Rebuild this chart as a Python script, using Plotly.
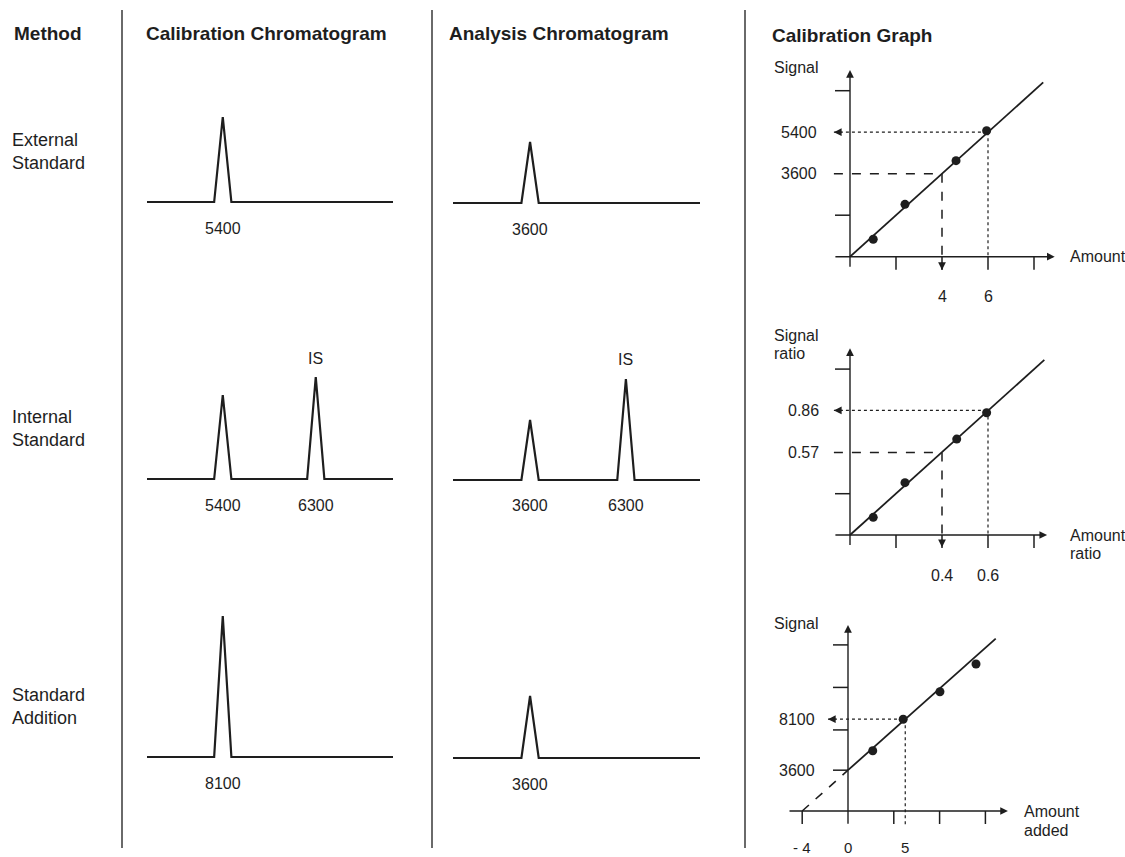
import plotly.graph_objects as go

W, H = 1125, 857
FONT = "Liberation Sans, Arial, Helvetica, sans-serif"
INK = "#1e1e1e"

# ---------------- data ----------------
headers = ["Method", "Calibration Chromatogram", "Analysis Chromatogram", "Calibration Graph"]
methods = ["External<br>Standard", "Internal<br>Standard", "Standard<br>Addition"]

# chromatograms (retention time 0..10, peak height in signal units)
cal_rt = [[3.08], [3.08, 6.86], [3.08]]
cal_height = [[85], [84, 102], [141]]
cal_area = [["5400"], ["5400", "6300"], ["8100"]]
ana_rt = [[3.12], [3.12, 7.0], [3.12]]
ana_height = [[61], [60, 101], [62]]
ana_area = [["3600"], ["3600", "6300"], ["3600"]]
is_flag = [[False], [False, True], [False]]
peak_halfwidth = 0.35

# calibration graph 1: external standard
ext_amount = [1.01, 2.39, 4.61, 5.94]
ext_signal = [755, 2270, 4165, 5465]
ext_slope, ext_icpt, ext_xmax = 900, 0, 8.4
ext_unknown = (4, 3600)
ext_std = (6, 5400)
ext_xticks = [2, 4, 6, 8]
ext_yticks = [1800, 7200]

# calibration graph 2: internal standard
int_amount = [0.101, 0.239, 0.464, 0.594]
int_signal = [0.122, 0.361, 0.662, 0.844]
int_slope, int_icpt, int_xmax = 1.43, 0, 0.845
int_unknown = (0.4, 0.57)
int_std = (0.6, 0.86)
int_xticks = [0.2, 0.4, 0.6, 0.8]
int_yticks = [0.285, 1.145]

# calibration graph 3: standard addition
add_amount = [2.16, 4.82, 8.03, 11.18]
add_signal = [5318, 8088, 10522, 12965]
add_slope, add_icpt, add_xmax = 900, 3600, 12.9
add_xint = -4
add_std = (5, 8100)
add_xticks = [-4, 4, 8, 12]
add_yticks = [3600, 7150, 10900, 14650]
add_xlabels = [(-4, "- 4"), (0, "0"), (5, "5")]

fig = go.Figure()
layout_axes = {}
shapes = []
annotations = []


def add_axes(i, box, xo, xs, yo, ys):
    left, top, right, bottom = box
    xr = [(left - xo) / xs, (right - xo) / xs]
    yr = [(yo - bottom) / ys, (yo - top) / ys]
    sfx = "" if i == 1 else str(i)
    layout_axes["xaxis" + sfx] = dict(domain=[left / W, right / W], range=xr, visible=False,
                                     anchor="y" + sfx, fixedrange=True)
    layout_axes["yaxis" + sfx] = dict(domain=[1 - bottom / H, 1 - top / H], range=yr, visible=False,
                                     anchor="x" + sfx, fixedrange=True)
    return "x" + sfx, "y" + sfx


def txt(text, x, y, xref, yref, size=16, xanchor="center", yanchor="middle", xshift=0, yshift=0, bold=False, align="left"):
    annotations.append(dict(text=("<b>%s</b>" % text) if bold else text, x=x, y=y, xref=xref, yref=yref,
                            showarrow=False, xanchor=xanchor, yanchor=yanchor, xshift=xshift, yshift=yshift,
                            align=align, font=dict(family=FONT, size=size, color=INK)))


def arrow(x, y, ax, ay, xref, yref, data_tail=True, width=1.4):
    d = dict(x=x, y=y, ax=ax, ay=ay, xref=xref, yref=yref, text="", showarrow=True,
             arrowhead=2, arrowsize=1.1, arrowwidth=width, arrowcolor=INK)
    if data_tail:
        d.update(axref=xref, ayref=yref)
    annotations.append(d)


def seg(x0, y0, x1, y1, xref, yref, dash="solid", width=1.5, color=INK):
    shapes.append(dict(type="line", xref=xref, yref=yref, x0=x0, y0=y0, x1=x1, y1=y1,
                       line=dict(color=color, width=width, dash=dash)))


# ---------------- headers / dividers ----------------
header_px = [(12, 33), (144, 33), (447, 33), (770, 35)]
for t, (px, py) in zip(headers, header_px):
    txt(t, px / W, 1 - py / H, "paper", "paper", size=19, xanchor="left", bold=True)

row_label_y = [151, 429, 706]
for t, py in zip(methods, row_label_y):
    txt(t, 10 / W, 1 - py / H, "paper", "paper", size=18, xanchor="left")

for px in [122, 432, 745]:
    shapes.append(dict(type="line", xref="paper", yref="paper", x0=px / W, x1=px / W,
                       y0=1 - 10 / H, y1=1 - 848 / H, line=dict(color="#6a6a6a", width=2)))

# ---------------- chromatograms ----------------
cal_base = [202, 479, 757]
ana_base = [203, 480, 758]
idx = 1
for col, (x_l, x_r, bases, rts, hts, areas) in enumerate([
        (147, 393, cal_base, cal_rt, cal_height, cal_area),
        (453, 700, ana_base, ana_rt, ana_height, ana_area)]):
    for r in range(3):
        base = bases[r]
        xref, yref = add_axes(idx, (x_l - 6, base - 170, x_r + 6, base + 10),
                              x_l, (x_r - x_l) / 10.0, base, 1.0)
        xs, ys = [0], [0]
        for rt, h in zip(rts[r], hts[r]):
            xs += [rt - peak_halfwidth, rt, rt + peak_halfwidth]
            ys += [0, h, 0]
        xs.append(10)
        ys.append(0)
        fig.add_trace(go.Scatter(x=xs, y=ys, xaxis=xref, yaxis=yref, mode="lines",
                                 line=dict(color=INK, width=2.2), hoverinfo="skip", showlegend=False))
        for rt, h, a, isf in zip(rts[r], hts[r], areas[r], is_flag[r]):
            txt(a, rt, 0, xref, yref, size=16, yshift=-26)
            if isf:
                txt("IS", rt, h, xref, yref, size=16, yshift=19)
        idx += 1


# ---------------- calibration graphs ----------------
def cal_graph(i, box, xo, xs_, yo, ys_, amt, sig, slope, icpt, xmin_line, xmax_line,
              x_axis, y_axis, xticks, yticks, ylab, xlab, ylabpos):
    xref, yref = add_axes(i, box, xo, xs_, yo, ys_)
    # axes
    arrow(x_axis[1], 0, x_axis[0], 0, xref, yref)
    arrow(0, y_axis[1], 0, y_axis[0], xref, yref)
    for v in xticks:
        shapes.append(dict(type="line", xref=xref, yref=yref, x0=v, x1=v, ysizemode="pixel",
                           yanchor=0, y0=0, y1=-13, line=dict(color=INK, width=1.5)))
    for v in yticks:
        shapes.append(dict(type="line", xref=xref, yref=yref, y0=v, y1=v, xsizemode="pixel",
                           xanchor=0, x0=-15, x1=0, line=dict(color=INK, width=1.5)))
    # fitted line
    lx = [xmin_line, xmax_line]
    fig.add_trace(go.Scatter(x=lx, y=[icpt + slope * v for v in lx], xaxis=xref, yaxis=yref,
                             mode="lines", line=dict(color=INK, width=1.8),
                             hoverinfo="skip", showlegend=False))
    fig.add_trace(go.Scatter(x=amt, y=sig, xaxis=xref, yaxis=yref, mode="markers",
                             marker=dict(color=INK, size=9), hoverinfo="skip", showlegend=False))
    # axis names
    for k, (t, ysh) in enumerate(ylab):
        txt(t, 0, y_axis[1], xref, yref, xanchor="left", xshift=ylabpos, yshift=ysh)
    for t, ysh in xlab[1]:
        txt(t, x_axis[1], 0, xref, yref, xanchor="left", xshift=xlab[0], yshift=ysh)
    return xref, yref


# graph 1
x7, y7 = cal_graph(7, (760, 55, 1125, 310), 850, 23.0, 256.7, 41.5 / 1800,
                   ext_amount, ext_signal, ext_slope, ext_icpt, 0, ext_xmax,
                   (-0.7, 8.9), (-500, 8100), ext_xticks, ext_yticks,
                   [("Signal", 2)], (13, [("Amount", 0)]), -78)
ux, uy = ext_unknown
sx, sy = ext_std
seg(-0.7, uy, ux, uy, x7, y7, dash="dash")
seg(ux, uy, ux, -560, x7, y7, dash="dash")
arrow(ux, -580, 0, -9, x7, y7, data_tail=False)
seg(-0.7, sy, sx, sy, x7, y7, dash="dot", width=1.2)
seg(sx, sy, sx, 0, x7, y7, dash="dot", width=1.2)
arrow(-0.7, sy, 9, 0, x7, y7, data_tail=False)
for t, v in [(str(uy), uy), (str(sy), sy)]:
    txt(t, 0, v, x7, y7, xanchor="right", xshift=-31)
for v in [ux, sx]:
    txt(str(v), v, 0, x7, y7, yshift=-40)

# graph 2
x8, y8 = cal_graph(8, (760, 325, 1125, 590), 850, 230.0, 535, 144.9,
                   int_amount, int_signal, int_slope, int_icpt, 0, int_xmax,
                   (-0.07, 0.857), (-0.08, 1.288), int_xticks, int_yticks,
                   [("Signal", 13), ("ratio", -5)], (21, [("Amount", 0), ("ratio", -18)]), -78)
ux, uy = int_unknown
sx, sy = int_std
seg(-0.07, uy, ux, uy, x8, y8, dash="dash")
seg(ux, uy, ux, -0.072, x8, y8, dash="dash")
arrow(ux, -0.085, 0, -9, x8, y8, data_tail=False)
seg(-0.07, sy, sx, sy, x8, y8, dash="dot", width=1.2)
seg(sx, sy, sx, 0, x8, y8, dash="dot", width=1.2)
arrow(-0.07, sy, 9, 0, x8, y8, data_tail=False)
for v in [uy, sy]:
    txt("%.2f" % v, 0, v, x8, y8, xanchor="right", xshift=-29)
for v in [ux, sx]:
    txt("%.1f" % v, v, 0, x8, y8, yshift=-40)

# graph 3
x9, y9 = cal_graph(9, (760, 610, 1125, 857), 848, 11.45, 811, 1 / 88.2,
                   add_amount, add_signal, add_slope, add_icpt, 0, add_xmax,
                   (-5.24, 13.97), (-1250, 16400), add_xticks, add_yticks,
                   [("Signal", 2)], (14, [("Amount", 0), ("added", -19)]), -76)
seg(add_xint, 0, 0, add_icpt, x9, y9, dash="dash", width=1.6)
sx, sy = add_std
seg(-1.75, sy, sx, sy, x9, y9, dash="dot", width=1.2)
seg(sx, sy, sx, -1250, x9, y9, dash="dot", width=1.2)
arrow(-1.75, sy, 9, 0, x9, y9, data_tail=False)
for t, v in [(str(sy), sy), (str(add_icpt), add_icpt)]:
    txt(t, 0, v, x9, y9, xanchor="right", xshift=-31)
for v, t in add_xlabels:
    txt(t, v, 0, x9, y9, size=15, yshift=-36)

fig.update_layout(width=W, height=H, margin=dict(l=0, r=0, t=0, b=0),
                  paper_bgcolor="white", plot_bgcolor="rgba(0,0,0,0)",
                  showlegend=False, shapes=shapes, annotations=annotations, **layout_axes)
fig.write_html("out.html", config=dict(displayModeBar=False, staticPlot=True),
               post_script="document.documentElement.style.margin='0';document.body.style.margin='0';"
                           "document.body.style.overflow='hidden';")
